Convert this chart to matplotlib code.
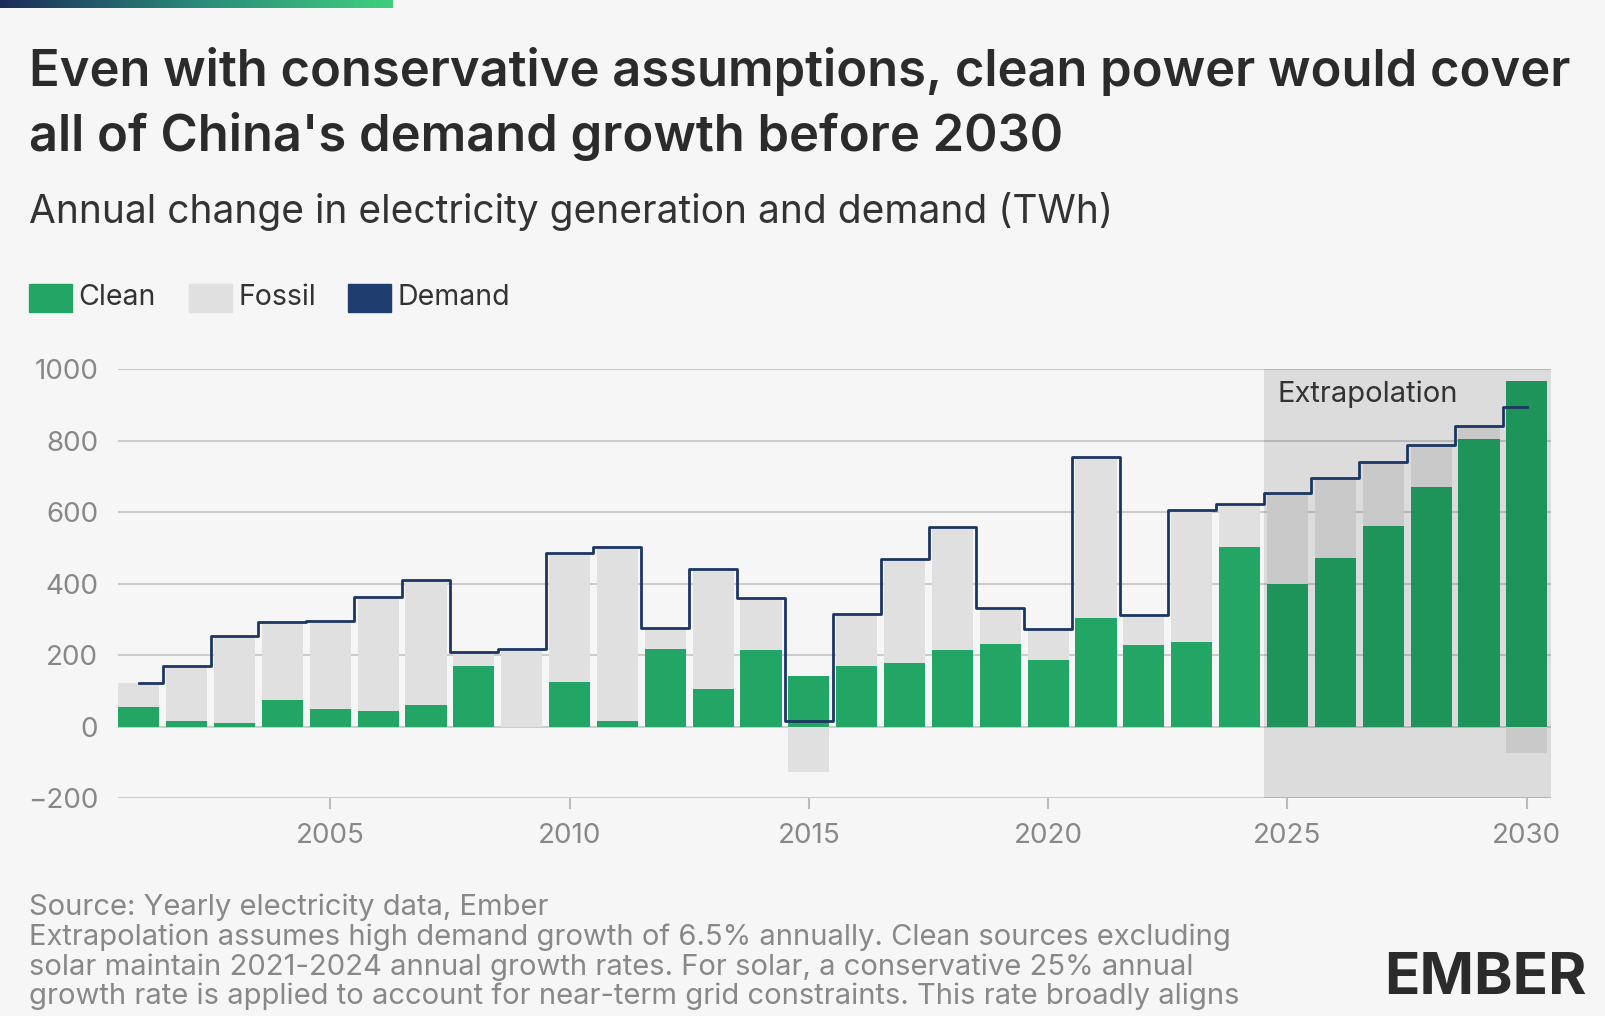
import matplotlib
matplotlib.use("Agg")
import matplotlib.pyplot as plt
import numpy as np
from matplotlib.patches import Rectangle
from matplotlib.colors import LinearSegmentedColormap

plt.rcParams['font.family'] = ['Inter', 'DejaVu Sans']

years = list(range(2001, 2031))
clean = [54, 17, 11, 75, 49, 43, 60, 169, 0, 126, 17, 218, 106, 215, 143, 169, 178, 215, 232, 186,
         304, 229, 238, 504, 398, 473, 562, 670, 805, 968]
fossil = [69, 152, 244, 217, 246, 321, 350, 40, 218, 361, 487, 57, 335, 146, -126, 146, 292, 344, 100, 86,
          452, 83, 369, 118, 255, 223, 180, 118, 37, -74]
demand = [c + f for c, f in zip(clean, fossil)]
yticks = [-200, 0, 200, 400, 600, 800, 1000]
xticks = [2005, 2010, 2015, 2020, 2025, 2030]

W, H = 1568, 993
bg = '#f6f6f6'
fig = plt.figure(figsize=(16.05, 10.16), dpi=100, facecolor=bg)
ax = fig.add_axes([115/W, 1 - 780/H, 1400/W, 419/H], facecolor=bg)

yr = np.array(years)
cl = np.array(clean)
fo = np.array(fossil)
w = 0.86
ax.bar(yr, cl, width=w, color='#22a565', zorder=2)
bottoms = np.where(fo > 0, cl, 0)
ax.bar(yr, fo, width=w, bottom=bottoms, color='#e0e0e0', zorder=2)
ax.step(yr, demand, where='mid', color='#1c3662', lw=2, zorder=4)

ax.add_patch(Rectangle((2024.5, -200), 6.0, 1200, color='#000000', alpha=0.1, zorder=3, lw=0))
ax.text(2024.8, 930, 'Extrapolation', fontsize=21, color='#333333', va='center', zorder=5)

ax.set_xlim(2000.56, 2030.5)
ax.set_ylim(-200, 1000)
ax.set_yticks(yticks)
ax.set_yticklabels([str(v).replace('-', '−') for v in yticks], fontsize=20, color='#888888')
ax.set_xticks(xticks)
ax.set_xticklabels([str(v) for v in xticks], fontsize=20, color='#888888')
ax.tick_params(axis='y', length=0, pad=14)
ax.tick_params(axis='x', length=8, color='#bbbbbb', pad=10, width=1.5)
ax.grid(axis='y', color='#cccccc', lw=1.5, zorder=0)
for s in ax.spines.values():
    s.set_visible(False)

gax = fig.add_axes([0, 1 - 8/H, 383/W, 8/H])
grad = np.linspace(0, 1, 256).reshape(1, -1)
cmap = LinearSegmentedColormap.from_list('g', ['#1c2c5a', '#2a8a7a', '#3fcf7f'])
gax.imshow(grad, aspect='auto', cmap=cmap)
gax.axis('off')

fig.text(28/W, 1 - 70/H, "Even with conservative assumptions, clean power would cover", fontsize=36.5,
         fontweight='semibold', color='#2b2b2b', va='center')
fig.text(28/W, 1 - 133/H, "all of China's demand growth before 2030", fontsize=36.5,
         fontweight='semibold', color='#2b2b2b', va='center')
fig.text(28/W, 1 - 207/H, "Annual change in electricity generation and demand (TWh)", fontsize=28,
         fontweight='normal', color='#333333', va='center')

for x0, col, lab in [(28, '#22a565', 'Clean'), (185, '#e0e0e0', 'Fossil'), (340, '#1f3d6e', 'Demand')]:
    fig.patches.append(Rectangle((x0/W, 1 - 305/H), 42/W, 27/H, color=col,
                                 transform=fig.transFigure, figure=fig))
    fig.text((x0 + 48)/W, 1 - 291/H, lab, fontsize=20.5, color='#333333', va='center')

foot = ["Source: Yearly electricity data, Ember",
        "Extrapolation assumes high demand growth of 6.5% annually. Clean sources excluding",
        "solar maintain 2021-2024 annual growth rates. For solar, a conservative 25% annual",
        "growth rate is applied to account for near-term grid constraints. This rate broadly aligns"]
for i, t in enumerate(foot):
    fig.text(28/W, 1 - (887 + 29*i)/H, t, fontsize=21, color='#888888', va='center')

fig.text(1550/W, 1 - 957/H, "EMBER", fontsize=42, fontweight='bold', color='#2b2b2b',
         ha='right', va='center')

fig.savefig('out.png', dpi=100, facecolor=bg)
